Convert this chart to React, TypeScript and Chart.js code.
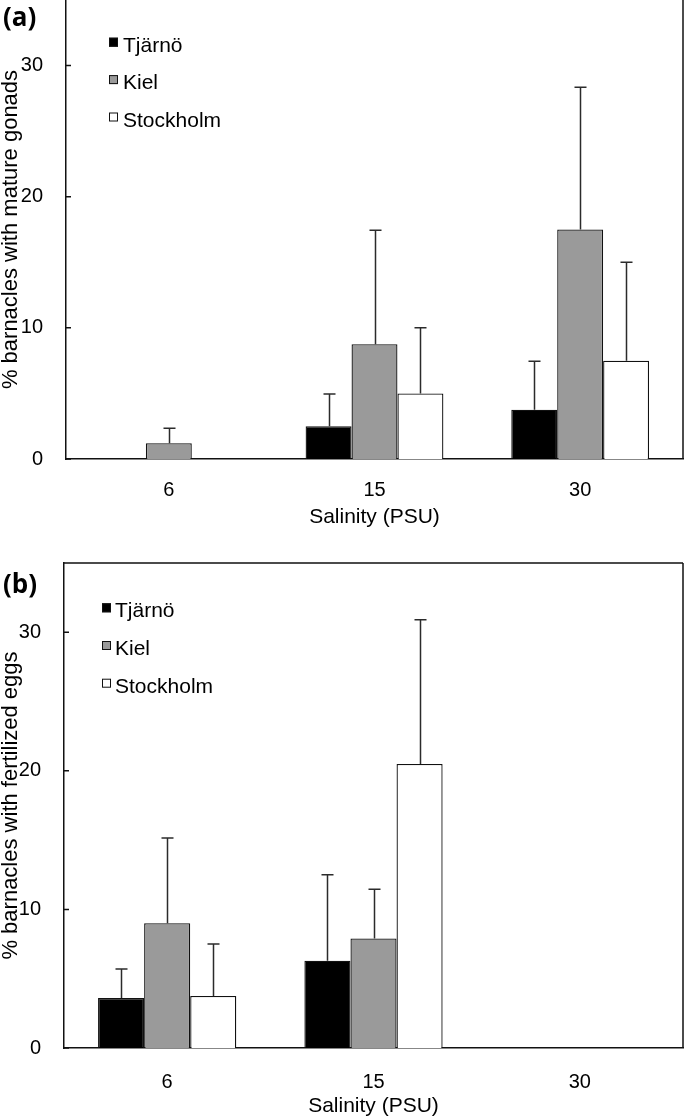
import React, { useEffect, useRef } from "react";
import { Chart, registerables } from "chart.js";

Chart.register(...registerables);

// ---------- data ----------
const salinityLabels = ["6", "15", "30"];
const seriesNames = ["Tjärnö", "Kiel", "Stockholm"];
const seriesFill = ["#000000", "#9a9a9a", "#ffffff"];
const yTickValues = [0, 10, 20, 30];
const yMaxValue = 35;

// (a) % barnacles with mature gonads
const gonadsTjarno = [0, 2.5, 3.75];
const gonadsKiel = [1.2, 8.75, 17.5];
const gonadsStockholm = [0, 5, 7.5];
const gonadsTjarnoErr = [0, 2.45, 3.7];
const gonadsKielErr = [1.15, 8.7, 10.85];
const gonadsStockholmErr = [0, 5, 7.5];

// (b) % barnacles with fertilized eggs
const eggsTjarno = [3.6, 6.3, 0];
const eggsKiel = [9.0, 7.9, 0];
const eggsStockholm = [3.75, 20.5, 0];
const eggsTjarnoErr = [2.1, 6.2, 0];
const eggsKielErr = [6.15, 3.55, 0];
const eggsStockholmErr = [3.75, 10.4, 0];

const FONT = '"Liberation Sans", Arial, Helvetica, sans-serif';
const LABEL_FONT = '"Open Sans", "Liberation Sans", Arial, sans-serif';

// ---------- plugins ----------
const errorBarPlugin = {
  id: "errorBars",
  afterDatasetsDraw(chart: any) {
    const ctx = chart.ctx;
    const ys = chart.scales.y;
    ctx.save();
    ctx.strokeStyle = "#2b2b2b";
    ctx.lineWidth = 1.5;
    chart.data.datasets.forEach((ds: any, di: number) => {
      const meta = chart.getDatasetMeta(di);
      meta.data.forEach((bar: any, i: number) => {
        const m = ds.data[i];
        const e = ds.errors ? ds.errors[i] : 0;
        if (!e) return;
        const x = Math.round(bar.x) + 0.5;
        const y0 = ys.getPixelForValue(m);
        const y1 = ys.getPixelForValue(m + e);
        ctx.beginPath();
        ctx.moveTo(x, y0);
        ctx.lineTo(x, y1);
        ctx.moveTo(x - 6, y1);
        ctx.lineTo(x + 6, y1);
        ctx.stroke();
      });
    });
    ctx.restore();
  },
};

const framePlugin = {
  id: "frame",
  afterDraw(chart: any, _args: any, opts: any) {
    const ctx = chart.ctx;
    const { left, right, top, bottom } = chart.chartArea;
    ctx.save();
    ctx.strokeStyle = "#111";
    ctx.lineWidth = 1.5;
    ctx.beginPath();
    ctx.moveTo(right, bottom);
    ctx.lineTo(right, top);
    if (opts.drawTop) {
      ctx.moveTo(left, top);
      ctx.lineTo(right, top);
    }
    ctx.stroke();
    // inward tick marks on y axis
    const ys = chart.scales.y;
    ctx.beginPath();
    ys.ticks.forEach((t: any) => {
      const py = ys.getPixelForValue(t.value);
      ctx.moveTo(left, py);
      ctx.lineTo(left + 5, py);
    });
    ctx.stroke();
    // panel label
    ctx.fillStyle = "#000";
    ctx.font = `bold ${opts.labelSize}px ${LABEL_FONT}`;
    ctx.textBaseline = "alphabetic";
    ctx.textAlign = "left";
    ctx.fillText(opts.label, opts.labelX, opts.labelY);
    ctx.restore();
  },
};

const boxLegendPlugin = {
  id: "boxLegend",
  afterDraw(chart: any, _args: any, opts: any) {
    const ctx = chart.ctx;
    const { left, top } = chart.chartArea;
    ctx.save();
    ctx.font = `${opts.fontSize}px ${FONT}`;
    ctx.textBaseline = "alphabetic";
    ctx.textAlign = "left";
    chart.data.datasets.forEach((ds: any, i: number) => {
      const base = top + opts.base + i * opts.dy;
      const bx = left + opts.boxX;
      const by = base - opts.boxLift - opts.boxSize;
      ctx.fillStyle = ds.backgroundColor;
      ctx.fillRect(bx, by, opts.boxSize, opts.boxSize);
      ctx.strokeStyle = "#111";
      ctx.lineWidth = 1;
      ctx.strokeRect(bx + 0.5, by + 0.5, opts.boxSize - 1, opts.boxSize - 1);
      ctx.fillStyle = "#000";
      ctx.fillText(ds.label, left + opts.textX, base);
    });
    ctx.restore();
  },
};

// ---------- panel ----------
type PanelSpec = {
  width: number;
  height: number;
  padTop: number;
  yWidth: number;
  xHeight: number;
  xTickPad: number;
  xTitlePad: number;
  yTitle: string;
  means: number[][];
  errors: number[][];
  legend: any;
  frame: any;
};

function Panel({ spec }: { spec: PanelSpec }) {
  const ref = useRef<HTMLCanvasElement | null>(null);
  useEffect(() => {
    if (!ref.current) return;
    const chart = new Chart(ref.current, {
      type: "bar",
      data: {
        labels: salinityLabels,
        datasets: seriesNames.map((name, i) => ({
          label: name,
          data: spec.means[i],
          errors: spec.errors[i],
          backgroundColor: seriesFill[i],
          borderColor: "#111",
          borderWidth: 1.3,
          borderSkipped: "start",
          categoryPercentage: 0.67,
          barPercentage: 1,
        })) as any,
      },
      options: {
        animation: false,
        responsive: false,
        devicePixelRatio: 1,
        layout: { padding: { top: spec.padTop, right: 2, bottom: 0, left: 0 } },
        plugins: {
          legend: { display: false },
          tooltip: { enabled: false },
          errorBars: {},
          frame: spec.frame,
          boxLegend: spec.legend,
        } as any,
        scales: {
          x: {
            grid: { display: false },
            border: { display: true, color: "#111", width: 1.5 },
            ticks: {
              color: "#000",
              font: { size: 20, family: FONT },
              padding: spec.xTickPad,
            },
            title: {
              display: true,
              text: "Salinity (PSU)",
              color: "#000",
              font: { size: 21, family: FONT },
              padding: { top: 0, bottom: spec.xTitlePad },
            },
            afterFit: (s: any) => {
              s.height = spec.xHeight;
              s.paddingLeft = 0;
              s.paddingRight = 0;
            },
          },
          y: {
            min: 0,
            max: yMaxValue,
            grid: { display: false },
            border: { display: true, color: "#111", width: 1.5 },
            afterBuildTicks: (s: any) => {
              s.ticks = yTickValues.map((v) => ({ value: v }));
            },
            ticks: {
              color: "#000",
              font: { size: 20, family: FONT },
              padding: 15,
            },
            title: {
              display: true,
              text: spec.yTitle,
              color: "#000",
              font: { size: 22, family: FONT, lineHeight: 1 },
              padding: 0,
            },
            afterFit: (s: any) => {
              s.width = spec.yWidth;
              s.paddingTop = 0;
              s.paddingBottom = 0;
            },
          },
        } as any,
      },
      plugins: [errorBarPlugin, framePlugin, boxLegendPlugin] as any,
    });
    return () => chart.destroy();
  }, [spec]);
  return (
    <canvas
      ref={ref}
      width={spec.width}
      height={spec.height}
      style={{ display: "block", width: spec.width, height: spec.height }}
    />
  );
}

const panelA: PanelSpec = {
  width: 685,
  height: 545,
  padTop: 0,
  yWidth: 66,
  xHeight: 86,
  xTickPad: 11,
  xTitlePad: 15,
  yTitle: "% barnacles with mature gonads",
  means: [gonadsTjarno, gonadsKiel, gonadsStockholm],
  errors: [gonadsTjarnoErr, gonadsKielErr, gonadsStockholmErr],
  legend: { boxX: 43, textX: 57, base: 51.7, dy: 37.4, boxSize: 9, boxLift: 5, fontSize: 21 },
  frame: { drawTop: false, label: "(a)", labelX: 3, labelY: 26, labelSize: 26 },
};

const panelB: PanelSpec = {
  width: 685,
  height: 574,
  padTop: 18,
  yWidth: 64,
  xHeight: 71,
  xTickPad: 14,
  xTitlePad: 0,
  yTitle: "% barnacles with fertilized eggs",
  means: [eggsTjarno, eggsKiel, eggsStockholm],
  errors: [eggsTjarnoErr, eggsKielErr, eggsStockholmErr],
  legend: { boxX: 38, textX: 51, base: 54.3, dy: 37.7, boxSize: 9, boxLift: 5, fontSize: 21 },
  frame: { drawTop: true, label: "(b)", labelX: 3, labelY: 47.5, labelSize: 26 },
};

export default function App() {
  return (
    <div style={{ position: "absolute", left: 0, top: 0, width: 685, height: 1119, background: "#fff" }}>
      <div style={{ position: "absolute", left: 0, top: 0 }}>
        <Panel spec={panelA} />
      </div>
      <div style={{ position: "absolute", left: 0, top: 545 }}>
        <Panel spec={panelB} />
      </div>
    </div>
  );
}
